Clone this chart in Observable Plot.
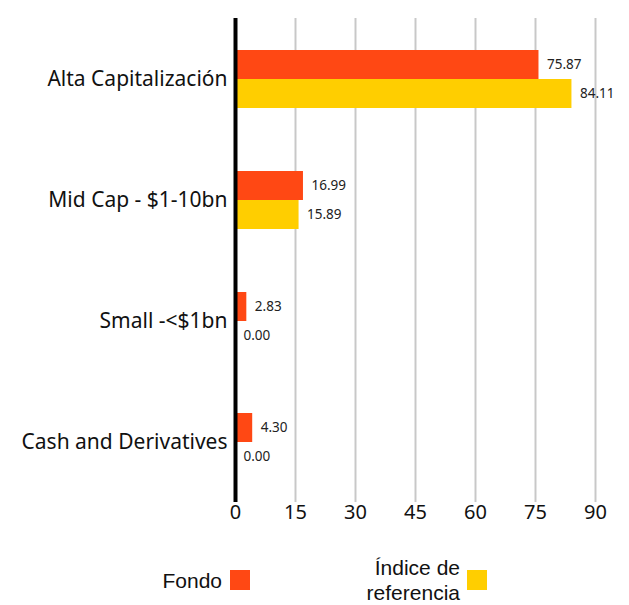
<!DOCTYPE html>
<html>
<head>
<meta charset="utf-8">
<script src="https://cdn.jsdelivr.net/npm/d3@7"></script>
<script src="https://cdn.jsdelivr.net/npm/@observablehq/plot@0.6"></script>
<style>
  body { margin: 0; background: #fff; font-family: "Noto Sans", sans-serif; }
  #wrap { position: relative; width: 629px; height: 605px; overflow: hidden; }
  .lg { position: absolute; font-family: "Liberation Sans", sans-serif; font-size: 21px; color: #111; line-height: 24px; white-space: nowrap; text-align: right; }
  .sw { position: absolute; width: 20px; height: 20px; }
</style>
</head>
<body>
<div id="wrap">
  <div id="chart"></div>
  <div class="lg" style="left:100px; width:122px; top:569px;">Fondo</div>
  <div class="sw" style="left:230px; top:570px; background:#ff4814;"></div>
  <div class="lg" style="left:300px; width:160px; top:556px;">Índice de</div>
  <div class="lg" style="left:300px; width:160px; top:581px;">referencia</div>
  <div class="sw" style="left:467px; top:570px; background:#ffce00;"></div>
</div>
<script>
const categories = ["Alta Capitalización", "Mid Cap - $1-10bn", "Small -<$1bn", "Cash and Derivatives"];
const series = ["Fondo", "Índice de referencia"];
const fondo = [75.87, 16.99, 2.83, 4.30];
const indice = [84.11, 15.89, 0.00, 0.00];
const xTicks = [0, 15, 30, 45, 60, 75, 90];
const colors = ["#ff4814", "#ffce00"];

const data = [];
categories.forEach((c, i) => {
  data.push({category: c, series: series[0], value: fondo[i]});
  data.push({category: c, series: series[1], value: indice[i]});
});

const chart = Plot.plot({
  width: 629,
  height: 540,
  marginLeft: 235,
  marginRight: 34,
  marginTop: 17,
  marginBottom: 38,
  style: {fontFamily: "Noto Sans, sans-serif", color: "#111", background: "#fff"},
  x: {domain: [0, 90]},
  y: {domain: series, axis: null, paddingInner: 0, paddingOuter: 1.02},
  fy: {domain: categories, padding: 0},
  color: {domain: series, range: colors},
  marks: [
    Plot.ruleX(xTicks.filter(d => d > 0), {stroke: "#c8c8c8", strokeWidth: 2}),
    Plot.barX(data, {fy: "category", y: "series", x: "value", fill: "series"}),
    Plot.text(data, {fy: "category", y: "series", x: "value", text: d => d.value.toFixed(2), dx: 8, textAnchor: "start", fontSize: 13.5, fill: "#222"}),
    Plot.ruleX([0], {stroke: "#000", strokeWidth: 4}),
    Plot.axisX({ticks: xTicks, tickSize: 0, tickPadding: 2, label: null, fontSize: 20}),
    Plot.axisFy({anchor: "left", tickSize: 0, tickPadding: 8, label: null, fontSize: 21})
  ]
});
document.getElementById("chart").appendChild(chart);
</script>
</body>
</html>
